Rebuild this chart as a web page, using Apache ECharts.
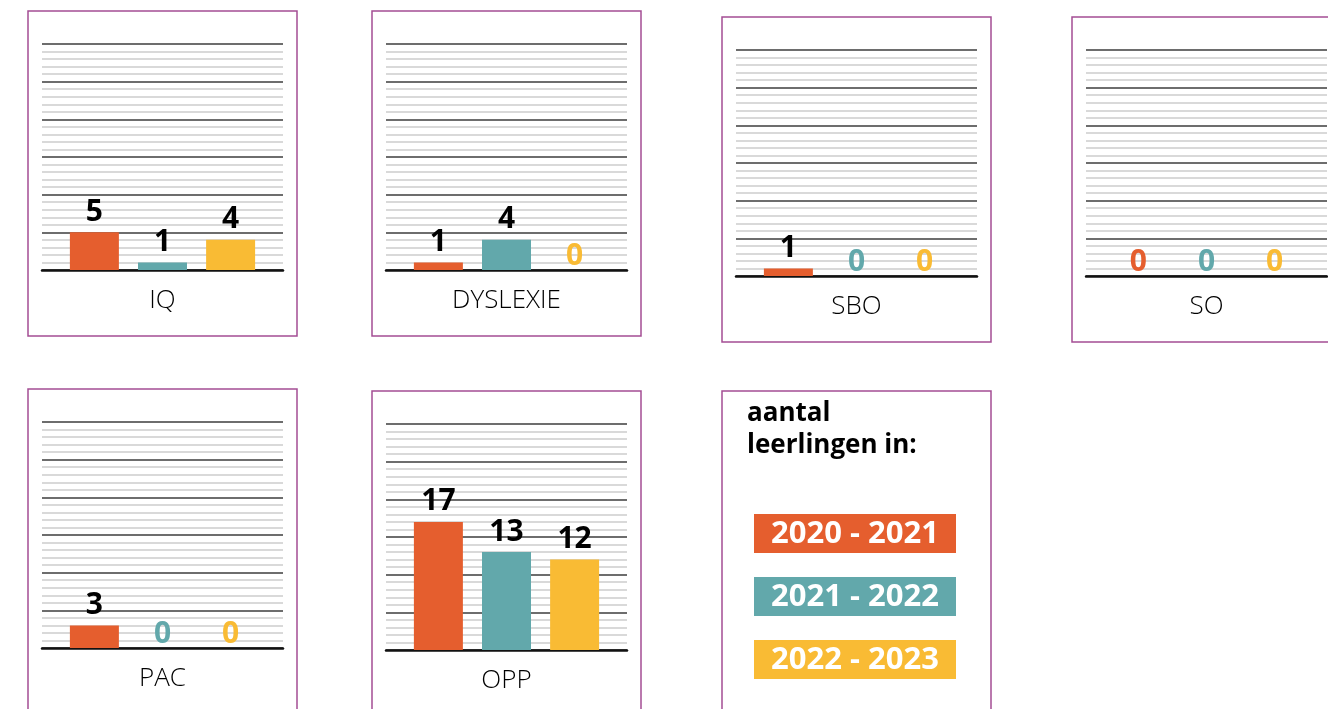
<!DOCTYPE html>
<html>
<head>
<meta charset="utf-8">
<script src="https://cdn.jsdelivr.net/npm/echarts@6/dist/echarts.min.js"></script>
<style>
html,body{margin:0;padding:0;background:#fff;}
#chart{width:1328px;height:709px;}
</style>
</head>
<body>
<div id="chart"></div>
<script>
// ---- data ----
var categories = ['IQ', 'DYSLEXIE', 'SBO', 'SO', 'PAC', 'OPP'];
var seriesNames = ['2020 - 2021', '2021 - 2022', '2022 - 2023'];
var values2020 = [5, 1, 1, 0, 3, 17];
var values2021 = [1, 4, 0, 0, 0, 13];
var values2022 = [4, 0, 0, 0, 0, 12];
var legendTitle = 'aantal\nleerlingen in:';

// ---- styling / layout ----
var colors = ['#e55e2e', '#62a8ab', '#f9bb34'];
var allValues = [values2020, values2021, values2022];
var gridPos = [
  {left: 42, top: 44},
  {left: 386, top: 44},
  {left: 736, top: 50},
  {left: 1086, top: 50},
  {left: 42, top: 422},
  {left: 386, top: 424}
];
var panelBoxes = [
  {x: 28, y: 11, h: 325},
  {x: 372, y: 11, h: 325},
  {x: 722, y: 17, h: 325},
  {x: 1072, y: 17, h: 325},
  {x: 28, y: 389, h: 340},
  {x: 372, y: 391, h: 340},
  {x: 722, y: 391, h: 340}
];
var FONT = '"Open Sans", "Noto Sans", sans-serif';

var grids = [], xAxes = [], yAxes = [], series = [], graphics = [];

categories.forEach(function (cat, i) {
  grids.push({left: gridPos[i].left, top: gridPos[i].top, width: 241, height: 226, containLabel: false});
  xAxes.push({
    type: 'category', gridIndex: i, data: [cat],
    axisLine: {show: true, lineStyle: {color: '#111', width: 2.5}},
    axisTick: {show: false},
    axisLabel: {color: '#000', fontSize: 26, fontWeight: 300, fontFamily: FONT, margin: 18}
  });
  yAxes.push({
    type: 'value', gridIndex: i, min: 0, max: 30, interval: 5,
    axisLine: {show: false}, axisTick: {show: false}, axisLabel: {show: false},
    splitLine: {show: true, lineStyle: {color: '#3c3c3c', width: 1.5}},
    minorTick: {show: false, splitNumber: 5},
    minorSplitLine: {show: true, lineStyle: {color: '#cdcdcd', width: 1.5}}
  });
  seriesNames.forEach(function (name, s) {
    var v = allValues[s][i];
    series.push({
      type: 'bar', name: name, xAxisIndex: i, yAxisIndex: i,
      barWidth: 49, barGap: '39%',
      itemStyle: {color: colors[s]},
      label: {
        show: true, position: 'top', fontFamily: FONT, fontWeight: 'bold', fontSize: 30
      },
      data: [{
        value: v,
        label: {color: v === 0 ? colors[s] : '#000', distance: v === 0 ? -1 : 5}
      }],
      z: 3
    });
  });
});

panelBoxes.forEach(function (b) {
  graphics.push({
    type: 'rect', shape: {x: b.x, y: b.y, width: 269, height: b.h},
    style: {fill: 'none', stroke: '#a44d94', lineWidth: 1.5}, silent: true
  });
});

graphics.push({
  type: 'text', left: 747, top: 398,
  style: {text: legendTitle, fontFamily: FONT, fontWeight: 'bold', fontSize: 26, lineHeight: 32, fill: '#000'}
});
seriesNames.forEach(function (name, s) {
  graphics.push({
    type: 'group', left: 754, top: 514 + s * 63,
    children: [
      {type: 'rect', shape: {x: 0, y: 0, width: 202, height: 39}, style: {fill: colors[s]}},
      {type: 'text', x: 101, y: 20, style: {text: name, fontFamily: FONT, fontWeight: 'bold', fontSize: 31, fill: '#fff', align: 'center', verticalAlign: 'middle'}}
    ]
  });
});

var chart = echarts.init(document.getElementById('chart'), null, {renderer: 'canvas'});
chart.setOption({
  animation: false,
  backgroundColor: '#fff',
  grid: grids, xAxis: xAxes, yAxis: yAxes, series: series,
  graphic: graphics
});
</script>
</body>
</html>
